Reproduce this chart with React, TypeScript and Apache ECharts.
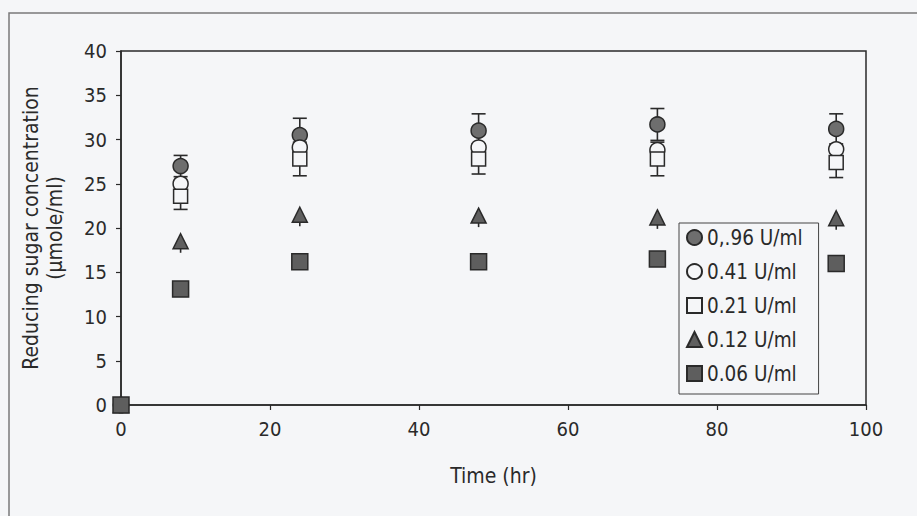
import React, { useEffect, useRef } from "react";
import * as echarts from "echarts";

const times = [0, 8, 24, 48, 72, 96];
const seriesNames = ["0,.96 U/ml", "0.41 U/ml", "0.21 U/ml", "0.12 U/ml", "0.06 U/ml"];
const s096 = [0, 27.0, 30.5, 31.0, 31.7, 31.2];
const s041 = [0, 25.0, 29.1, 29.1, 28.8, 28.9];
const s021 = [0, 23.6, 27.8, 27.8, 27.8, 27.4];
const s012 = [0, 18.5, 21.5, 21.4, 21.2, 21.1];
const s006 = [0, 13.1, 16.2, 16.2, 16.5, 16.0];
const err096 = [0, 1.2, 1.9, 1.9, 1.8, 1.7];
const err021 = [0, 1.5, 1.9, 1.7, 1.9, 1.7];
const err012 = [0, 1.3, 1.3, 1.3, 1.3, 1.3];
const xTicks = [0, 20, 40, 60, 80, 100];
const yTicks = [0, 5, 10, 15, 20, 25, 30, 35, 40];

const FONT = "'DejaVu Sans Condensed', 'DejaVu Sans', sans-serif";
const BG = "#f5f6f8";
const DARK = "#2a2a2a";

export default function App() {
  const ref = useRef<HTMLDivElement>(null);
  useEffect(() => {
    document.body.style.margin = "0";
    const chart = echarts.init(ref.current!, null, { renderer: "svg" });
    const pts = (vals: number[]) => times.map((t, i) => [t, vals[i]]);
    const errData = (vals: number[], errs: number[]) =>
      times.map((t, i) => [t, vals[i] - errs[i], vals[i] + errs[i]]).filter((d, i) => errs[i] > 0);
    const errSeries = (vals: number[], errs: number[], caps: boolean, lowerOnly: boolean) => ({
      type: "custom",
      silent: true,
      z: 1,
      data: lowerOnly ? errData(vals, errs).map((d) => [d[0], d[1], vals[times.indexOf(d[0] as number)]]) : errData(vals, errs),
      renderItem: (params: any, api: any) => {
        const x = api.value(0);
        const lo = api.coord([x, api.value(1)]);
        const hi = api.coord([x, api.value(2)]);
        const w = 7;
        const st = { stroke: DARK, lineWidth: 1.6 };
        const children: any[] = [
          { type: "line", shape: { x1: lo[0], y1: lo[1], x2: hi[0], y2: hi[1] }, style: st },
        ];
        if (caps) {
          children.push({ type: "line", shape: { x1: lo[0] - w, y1: lo[1], x2: lo[0] + w, y2: lo[1] }, style: st });
          children.push({ type: "line", shape: { x1: hi[0] - w, y1: hi[1], x2: hi[0] + w, y2: hi[1] }, style: st });
        }
        return { type: "group", children };
      },
    });
    const sc = (name: string, vals: number[], symbol: string, size: number, color: string, z: number) => ({
      type: "scatter",
      name,
      data: pts(vals),
      symbol,
      symbolSize: size,
      z,
      itemStyle: { color, borderColor: DARK, borderWidth: 1.5, opacity: 1 },
    });
    chart.setOption({
      animation: false,
      backgroundColor: BG,
      textStyle: { fontFamily: FONT },
      grid: { left: 121, right: 51, top: 51, bottom: 111, show: true, borderColor: DARK, borderWidth: 1.5, backgroundColor: "transparent" },
      xAxis: {
        type: "value",
        min: 0,
        max: 100,
        interval: 20,
        name: "Time (hr)",
        nameLocation: "middle",
        nameGap: 60,
        nameTextStyle: { fontFamily: FONT, fontSize: 21, color: DARK },
        axisLine: { show: true, lineStyle: { color: DARK, width: 1.5 } },
        axisTick: { show: true, inside: false, length: 5, lineStyle: { color: DARK, width: 1.2 } },
        axisLabel: { fontFamily: FONT, fontSize: 20, color: DARK, margin: 14, formatter: (v: number) => (xTicks.includes(v) ? String(v) : "") },
        splitLine: { show: false },
      },
      yAxis: {
        type: "value",
        min: 0,
        max: 40,
        interval: 5,
        name: "Reducing sugar concentration\n(µmole/ml)",
        nameLocation: "middle",
        nameGap: 54,
        nameTextStyle: { fontFamily: FONT, fontSize: 21, color: DARK, lineHeight: 24 },
        axisLine: { show: true, lineStyle: { color: DARK, width: 1.5 } },
        axisTick: { show: true, inside: false, length: 5, lineStyle: { color: DARK, width: 1.2 } },
        axisLabel: { fontFamily: FONT, fontSize: 20, color: DARK, margin: 14, formatter: (v: number) => (yTicks.includes(v) ? String(v) : "") },
        splitLine: { show: false },
      },
      legend: {
        orient: "vertical",
        left: 679,
        top: 223,
        data: seriesNames,
        itemWidth: 15,
        itemHeight: 15,
        itemGap: 13,
        padding: [4, 16, 10, 7],
        backgroundColor: BG,
        borderColor: "#444",
        borderWidth: 1,
        borderRadius: 0,
        textStyle: { fontFamily: FONT, fontSize: 20.5, color: DARK, padding: [0, 0, 0, 0] },
      },
      graphic: [
        {
          type: "rect",
          shape: { x: 9, y: 13, width: 960, height: 560 },
          style: { fill: "none", stroke: "#7a7a7a", lineWidth: 1.5 },
          silent: true,
          z: -1,
        },
      ],
      series: [
        errSeries(s096, err096, true, false),
        errSeries(s021, err021, true, false),
        errSeries(s012, err012, false, true),
        sc(seriesNames[0], s096, "circle", 15, "#6e6e6e", 2),
        sc(seriesNames[1], s041, "circle", 15, BG, 2),
        sc(seriesNames[2], s021, "rect", 14, BG, 2),
        sc(seriesNames[3], s012, "triangle", 15, "#5f5f5f", 2),
        sc(seriesNames[4], s006, "rect", 16, "#5e5e5e", 2),
      ],
    });
    return () => chart.dispose();
  }, []);
  return <div ref={ref} style={{ width: 917, height: 516 }} />;
}
